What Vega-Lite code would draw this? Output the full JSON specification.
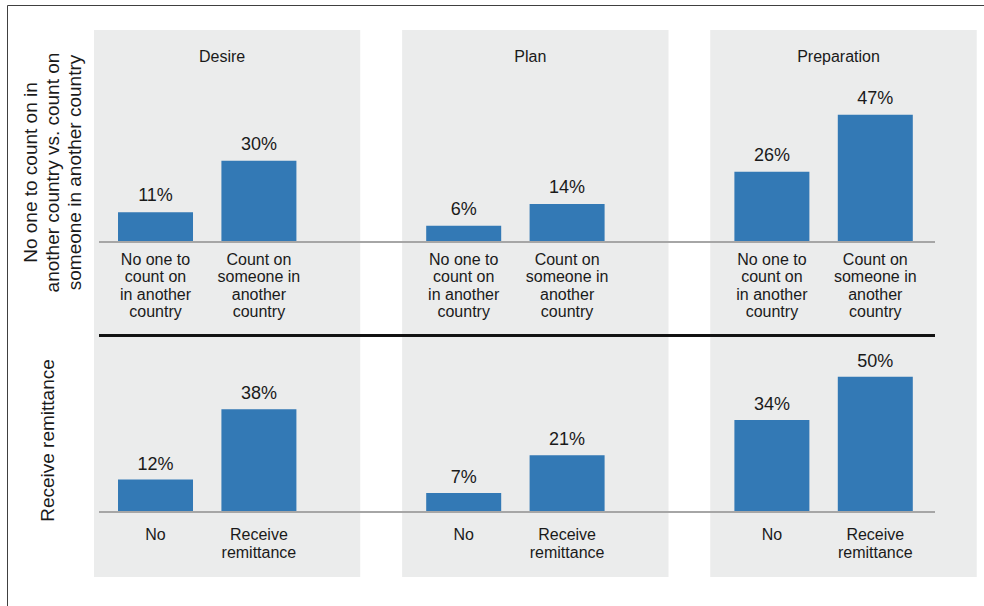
{
  "$schema": "https://vega.github.io/schema/vega-lite/v6.json",
  "width": 984,
  "height": 606,
  "autosize": {"type": "fit", "contains": "padding"},
  "padding": {"left": 7, "top": 5, "right": 0, "bottom": 0},
  "background": "white",
  "config": {"view": {"stroke": null}, "font": "Liberation Sans"},
  "data": {
    "values": [
      {"measure": "Count on someone", "stage": "Desire", "response": "No", "label": "No one to\ncount on\nin another\ncountry", "value": 0.11},
      {"measure": "Count on someone", "stage": "Desire", "response": "Yes", "label": "Count on\nsomeone in\nanother\ncountry", "value": 0.30},
      {"measure": "Count on someone", "stage": "Plan", "response": "No", "label": "No one to\ncount on\nin another\ncountry", "value": 0.06},
      {"measure": "Count on someone", "stage": "Plan", "response": "Yes", "label": "Count on\nsomeone in\nanother\ncountry", "value": 0.14},
      {"measure": "Count on someone", "stage": "Preparation", "response": "No", "label": "No one to\ncount on\nin another\ncountry", "value": 0.26},
      {"measure": "Count on someone", "stage": "Preparation", "response": "Yes", "label": "Count on\nsomeone in\nanother\ncountry", "value": 0.47},
      {"measure": "Receive remittance", "stage": "Desire", "response": "No", "label": "No", "value": 0.12},
      {"measure": "Receive remittance", "stage": "Desire", "response": "Yes", "label": "Receive\nremittance", "value": 0.38},
      {"measure": "Receive remittance", "stage": "Plan", "response": "No", "label": "No", "value": 0.07},
      {"measure": "Receive remittance", "stage": "Plan", "response": "Yes", "label": "Receive\nremittance", "value": 0.21},
      {"measure": "Receive remittance", "stage": "Preparation", "response": "No", "label": "No", "value": 0.34},
      {"measure": "Receive remittance", "stage": "Preparation", "response": "Yes", "label": "Receive\nremittance", "value": 0.50}
    ]
  },
  "layer": [
    {
      "transform": [{"filter": "datum.measure === 'Count on someone'"}],
      "layer": [
        {
          "mark": {"type": "rect", "color": "#ebecec"},
          "encoding": {
            "x": {"field": "stage", "type": "nominal", "sort": null,
              "scale": {"domain": ["Desire", "Plan", "Preparation"], "paddingInner": 0.1369, "paddingOuter": 0.1535, "align": 0.9207},
              "axis": {"orient": "top", "title": null, "domain": true, "domainColor": "#404040", "domainWidth": 1, "ticks": false, "tickSize": 0, "grid": false, "labels": true, "labelPadding": -56, "labelBaseline": "alphabetic", "labelAngle": 0, "labelFontSize": 16, "labelFont": "Liberation Sans", "labelColor": "#1a1a1a", "labelOffset": -5}},
            "y": {"datum": 0.7837, "type": "quantitative", "scale": {"domain": [-1.3457, 0.8761], "nice": false, "zero": false},
              "axis": {"orient": "left", "domain": true, "domainColor": "#404040", "domainWidth": 1, "ticks": false, "labels": false, "grid": false,
                "title": ["No one to count on in", "another country vs. count on", "someone in another country"],
                "titleX": 29, "titleY": 167, "titleAngle": -90, "titleAlign": "center", "titleBaseline": "alphabetic", "titleFontSize": 19, "titleFontWeight": "normal", "titleLineHeight": 22, "titleColor": "#1a1a1a", "titleFont": "Liberation Sans", "titlePadding": 0}},
            "y2": {"datum": -1.2384}
          }
        },
        {
          "mark": {"type": "bar", "color": "#3379b5"},
          "encoding": {
            "x": {"field": "stage", "type": "nominal", "sort": null},
            "xOffset": {"field": "response", "type": "nominal", "sort": null, "scale": {"domain": ["No", "Yes"], "paddingInner": 0.2747, "paddingOuter": 0.4236, "align": 0.2728}},
            "y": {"field": "value", "type": "quantitative"}
          }
        },
        {
          "mark": {"type": "rule", "color": "#a6a6a6", "strokeWidth": 2},
          "encoding": {
            "x": {"datum": "Desire", "bandPosition": 0.0184},
            "x2": {"datum": "Preparation", "bandPosition": 0.844},
            "y": {"datum": 0, "type": "quantitative"}
          }
        },
        {
          "mark": {"type": "rule", "color": "#111111", "strokeWidth": 2},
          "encoding": {
            "x": {"datum": "Desire", "bandPosition": 0.0184},
            "x2": {"datum": "Preparation", "bandPosition": 0.844},
            "y": {"datum": -0.3457, "type": "quantitative"}
          }
        },
        {
          "mark": {"type": "text", "baseline": "alphabetic", "dy": -11, "fontSize": 18, "color": "#1a1a1a", "font": "Liberation Sans"},
          "encoding": {
            "x": {"field": "stage", "type": "nominal", "sort": null},
            "xOffset": {"field": "response", "type": "nominal", "sort": null},
            "y": {"field": "value", "type": "quantitative"},
            "text": {"field": "value", "type": "quantitative", "format": ".0%"}
          }
        },
        {
          "mark": {"type": "text", "baseline": "alphabetic", "dy": 23, "fontSize": 16, "lineHeight": 17.5, "lineBreak": "\n", "color": "#1a1a1a", "font": "Liberation Sans"},
          "encoding": {
            "x": {"field": "stage", "type": "nominal", "sort": null},
            "xOffset": {"field": "response", "type": "nominal", "sort": null},
            "y": {"datum": 0, "type": "quantitative"},
            "text": {"field": "label", "type": "nominal"}
          }
        }
      ]
    },
    {
      "transform": [{"filter": "datum.measure === 'Receive remittance'"}],
      "layer": [
        {
          "mark": {"type": "bar", "color": "#3379b5"},
          "encoding": {
            "x": {"field": "stage", "type": "nominal", "sort": null},
            "xOffset": {"field": "response", "type": "nominal", "sort": null},
            "y": {"field": "value", "type": "quantitative", "scale": {"domain": [-0.3475, 1.8743], "nice": false, "zero": false},
              "axis": {"orient": "left", "domain": false, "ticks": false, "labels": false, "grid": false,
                "title": "Receive remittance",
                "titleX": 46, "titleY": 435, "titleAngle": -90, "titleAlign": "center", "titleBaseline": "alphabetic", "titleFontSize": 19, "titleFontWeight": "normal", "titleColor": "#1a1a1a", "titleFont": "Liberation Sans", "titlePadding": 0}}
          }
        },
        {
          "mark": {"type": "rule", "color": "#a6a6a6", "strokeWidth": 2},
          "encoding": {
            "x": {"datum": "Desire", "bandPosition": 0.0184},
            "x2": {"datum": "Preparation", "bandPosition": 0.844},
            "y": {"datum": 0, "type": "quantitative"}
          }
        },
        {
          "mark": {"type": "text", "baseline": "alphabetic", "dy": -10, "fontSize": 18, "color": "#1a1a1a", "font": "Liberation Sans"},
          "encoding": {
            "x": {"field": "stage", "type": "nominal", "sort": null},
            "xOffset": {"field": "response", "type": "nominal", "sort": null},
            "y": {"field": "value", "type": "quantitative"},
            "text": {"field": "value", "type": "quantitative", "format": ".0%"}
          }
        },
        {
          "mark": {"type": "text", "baseline": "alphabetic", "dy": 28, "fontSize": 16, "lineHeight": 18, "lineBreak": "\n", "color": "#1a1a1a", "font": "Liberation Sans"},
          "encoding": {
            "x": {"field": "stage", "type": "nominal", "sort": null},
            "xOffset": {"field": "response", "type": "nominal", "sort": null},
            "y": {"datum": 0, "type": "quantitative"},
            "text": {"field": "label", "type": "nominal"}
          }
        }
      ]
    }
  ],
  "resolve": {"scale": {"y": "independent"}, "axis": {"y": "independent"}}
}
